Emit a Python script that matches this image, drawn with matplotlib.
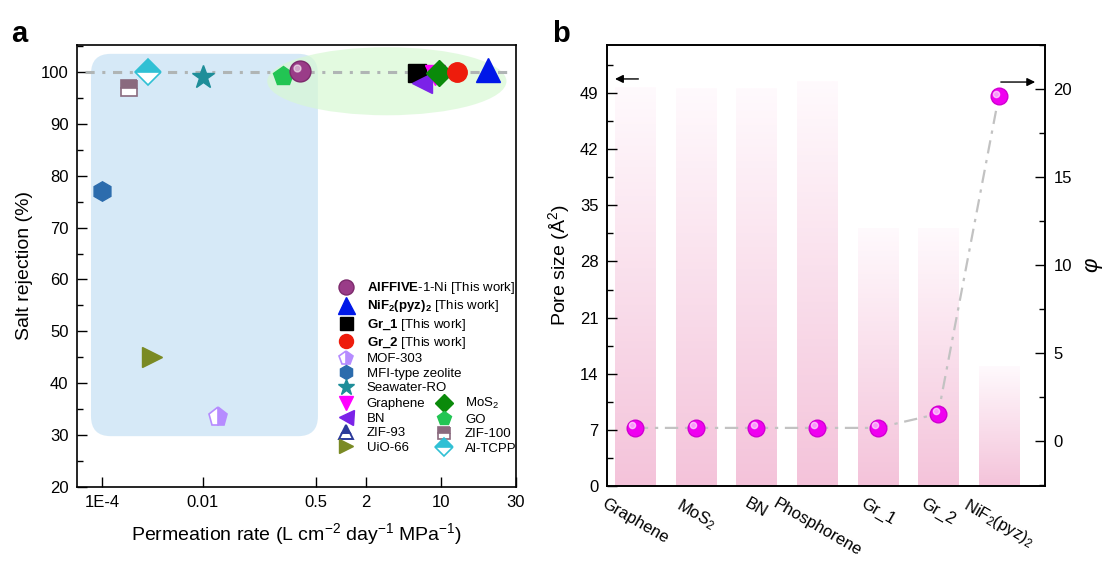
import matplotlib
matplotlib.use("Agg")
import matplotlib.pyplot as plt
import numpy as np
from matplotlib.patches import FancyBboxPatch, Ellipse
from matplotlib.ticker import MultipleLocator, NullLocator
from matplotlib.transforms import offset_copy
from matplotlib.colors import LinearSegmentedColormap

plt.rcParams['font.family'] = ['Liberation Sans', 'DejaVu Sans']
plt.rcParams['mathtext.fontset'] = 'custom'
plt.rcParams['mathtext.rm'] = 'Liberation Sans'
plt.rcParams['mathtext.it'] = 'Liberation Sans:italic'
plt.rcParams['mathtext.bf'] = 'Liberation Sans:bold'

# ---- panel a data: (permeation, rejection) ----
alffive = (0.29, 100.2)
nif2 = (20.0, 100.3)
gr1 = (6.0, 99.8)
gr2 = (12.6, 100.0)
mof303 = (0.017, 33.4)
mfi = (1.0e-4, 77.1)
seawater = (0.01, 99.0)
graphene_a = (8.8, 99.4)
mos2_a = (9.6, 99.8)
bn_a = (6.7, 97.9)
go = (0.16, 99.2)
zif100 = (3.4e-4, 96.9)
uio66 = (1.0e-3, 45.1)
altcpp = (8.1e-4, 100.0)

xtick_vals = [1e-4, 0.01, 0.5, 2, 10, 30]
xtick_labels = ['1E-4', '0.01', '0.5', '2', '10', '30']
# the original axis is not a plain log axis: relative spacing of its ticks
xtick_spacing = [0, 101, 214, 264, 339, 414]

# ---- panel b data ----
materials = ['Graphene', 'MoS$_2$', 'BN', 'Phosphorene', 'Gr_1', 'Gr_2', 'NiF$_2$(pyz)$_2$']
pore_size = [49.7, 49.6, 49.6, 50.5, 32.2, 32.2, 15.0]
phi = [0.75, 0.75, 0.75, 0.75, 0.75, 1.55, 19.6]

fig = plt.figure(figsize=(11.04, 5.61), dpi=100)
axa = fig.add_axes([0.0697, 0.1319, 0.3976, 0.7879])
axb = fig.add_axes([0.5498, 0.1337, 0.3967, 0.7861])

# custom x scale (piecewise log)
lg = np.log10(xtick_vals)
anc_log = np.concatenate([[-6], lg, [3]])
anc_pos = np.concatenate([[-101], xtick_spacing, [414 + (3 - lg[-1]) * 157]])


def fwd(x):
    return np.interp(np.log10(np.clip(x, 1e-12, None)), anc_log, anc_pos)


def inv(p):
    return 10 ** np.interp(p, anc_pos, anc_log)


axa.set_xscale('function', functions=(fwd, inv))
axa.set_xlim(3.2e-5, 30)
axa.set_ylim(20, 105.2)

# shaded regions
axa.add_patch(FancyBboxPatch((0.077, 0.16), 0.427, 0.775,
                             boxstyle="round,pad=0.045", transform=axa.transAxes,
                             fc='#cfe6f6', ec='none', alpha=0.85, zorder=0))
axa.add_patch(Ellipse((0.706, 0.918), 0.545, 0.154, transform=axa.transAxes,
                      fc='#d8f8d4', ec='none', alpha=0.7, zorder=1))
axa.axhline(100, xmin=0.018, xmax=0.982, color='#b0b5b5', lw=2.2,
            dashes=(3, 2.5, 1, 2.5), zorder=2)

ms = 14
h = {}
h['mof'], = axa.plot(*mof303, 'p', ms=ms, color='#b68cff', fillstyle='right',
                     markerfacecoloralt='white', mec='#b68cff', mew=1.2, ls='none')
h['mfi'], = axa.plot(*mfi, 'h', ms=ms, color='#2c6cad', ls='none')
h['sw'], = axa.plot(*seawater, '*', ms=ms + 3, color='#1e8e99', ls='none')
h['zif100'], = axa.plot(*zif100, 's', ms=ms - 2, color='#8a6a7e', fillstyle='top',
                        markerfacecoloralt='white', mec='#8a6a7e', mew=1.2, ls='none')
h['uio'], = axa.plot(*uio66, '>', ms=ms, color='#7a8a24', ls='none')
h['altcpp'], = axa.plot(*altcpp, 'D', ms=ms - 1, color='#30c0d4', fillstyle='top',
                        markerfacecoloralt='white', mec='#30c0d4', mew=1.2, ls='none')
h['go'], = axa.plot(*go, 'p', ms=ms + 1, color='#22c553', ls='none')
h['gr1'], = axa.plot(*gr1, 's', ms=ms - 1, color='black', ls='none')
h['graphene'], = axa.plot(*graphene_a, 'v', ms=ms, color='#ff00ff', ls='none')
h['bn'], = axa.plot(*bn_a, '<', ms=ms + 1, color='#7b22e8', ls='none')
h['mos2'], = axa.plot(*mos2_a, 'D', ms=ms - 1, color='#0a8a0a', ls='none')
h['gr2'], = axa.plot(*gr2, 'o', ms=ms, color='#ee1c0c', ls='none')
h['nif2'], = axa.plot(*nif2, '^', ms=ms + 3, color='#0018e8', ls='none')
h['alf'], = axa.plot(*alffive, 'o', ms=ms + 1, color='#9a3c88', mec='#7c2a6c', ls='none')
axa.plot(*alffive, 'o', ms=5, color='white', alpha=0.55, ls='none',
         transform=offset_copy(axa.transData, fig, x=-2, y=2, units='points'))
h['zif93'], = axa.plot([], [], '^', ms=ms, color='#2b3a9a', fillstyle='top',
                       markerfacecoloralt='white', mec='#2b3a9a', mew=1.4, ls='none')

axa.set_xticks(xtick_vals)
axa.set_xticklabels(xtick_labels)
axa.xaxis.set_minor_locator(NullLocator())
axa.set_yticks(np.arange(20, 101, 10))
axa.yaxis.set_minor_locator(MultipleLocator(5))
axa.tick_params(direction='in', length=7, width=1, labelsize=12, pad=6)
axa.tick_params(which='minor', direction='in', length=4, width=1)
for s in axa.spines.values():
    s.set_linewidth(1.2)
axa.set_xlabel('Permeation rate (L cm$^{-2}$ day$^{-1}$ MPa$^{-1}$)', fontsize=14, labelpad=8)
axa.set_ylabel('Salt rejection (%)', fontsize=14, labelpad=6)

leg_kw = dict(frameon=False, fontsize=9.5, handlelength=1.1, handletextpad=1.0,
              labelspacing=0.17, borderpad=0, borderaxespad=0, markerscale=0.72)
leg1 = axa.legend([h['alf'], h['nif2'], h['gr1'], h['gr2'], h['mof'], h['mfi'], h['sw']],
                  [r'$\mathbf{AlFFIVE}$-1-Ni [This work]',
                   r'$\mathbf{NiF_2(pyz)_2}$ [This work]',
                   r'$\mathbf{Gr\_1}$ [This work]',
                   r'$\mathbf{Gr\_2}$ [This work]',
                   'MOF-303', 'MFI-type zeolite', 'Seawater-RO'],
                  loc='upper left', bbox_to_anchor=(0.597, 0.468), **leg_kw)
axa.add_artist(leg1)
axa.legend([h['graphene'], h['bn'], h['zif93'], h['uio'],
            h['mos2'], h['go'], h['zif100'], h['altcpp']],
           ['Graphene', 'BN', 'ZIF-93', 'UiO-66', 'MoS$_2$', 'GO', 'ZIF-100', 'Al-TCPP'],
           ncol=2, columnspacing=0.9, loc='upper left',
           bbox_to_anchor=(0.597, 0.205), **leg_kw)

# ---- panel b ----
x = np.arange(len(materials))
bars = axb.bar(x, pore_size, width=0.66, color='none', edgecolor='none')
grad = np.linspace(0, 1, 256).reshape(-1, 1)
cmap = LinearSegmentedColormap.from_list('pk', ['#f4c3da', '#fffafd'])
for b in bars:
    bx, bw, bh = b.get_x(), b.get_width(), b.get_height()
    im = axb.imshow(grad, extent=[bx, bx + bw, 0, bh], origin='lower', cmap=cmap,
                    aspect='auto', zorder=1)
    im.set_clip_path(b)
axb.set_xlim(-0.46, 6.76)
axb.set_ylim(0, 55)
axb.set_yticks(np.arange(0, 50, 7))
axb.yaxis.set_minor_locator(MultipleLocator(3.5))
axb.set_xticks(x)
axb.set_xticklabels(materials, rotation=-30, ha='center', va='top', fontsize=12)
axb.tick_params(axis='x', length=0, pad=7)
axb.tick_params(axis='y', direction='in', length=7, width=1, labelsize=12, pad=6)
axb.tick_params(axis='y', which='minor', direction='in', length=4, width=1)
axb.set_ylabel('Pore size (Å$^{2}$)', fontsize=14, labelpad=6)

axr = axb.twinx()
axr.set_ylim(-2.55, 22.5)
axr.plot(x, phi, color='#c2c2c2', lw=1.6, dashes=(6, 3, 1.5, 3), zorder=2)
axr.plot(x, phi, 'o', ms=12, color='#f000f0', mec='#d000d0', ls='none', zorder=3)
axr.plot(x, phi, 'o', ms=4.5, color='white', alpha=0.6, ls='none', zorder=4,
         transform=offset_copy(axr.transData, fig, x=-1.8, y=1.8, units='points'))
axr.set_yticks([0, 5, 10, 15, 20])
axr.yaxis.set_minor_locator(MultipleLocator(2.5))
axr.tick_params(axis='y', direction='in', length=7, width=1, labelsize=12, pad=6)
axr.tick_params(axis='y', which='minor', direction='in', length=4, width=1)
axr.set_ylabel(r'$\varphi$', fontsize=16, labelpad=8)
for ax in (axb, axr):
    for s in ax.spines.values():
        s.set_linewidth(1.2)

axb.annotate('', xy=(0.012, 0.923), xytext=(0.078, 0.923), xycoords='axes fraction',
             arrowprops=dict(arrowstyle='-|>', color='black', lw=1, mutation_scale=12))
axb.annotate('', xy=(0.984, 0.916), xytext=(0.893, 0.916), xycoords='axes fraction',
             arrowprops=dict(arrowstyle='-|>', color='black', lw=1, mutation_scale=12))

fig.text(0.010, 0.925, 'a', fontsize=21, fontweight='bold')
fig.text(0.500, 0.925, 'b', fontsize=21, fontweight='bold')

fig.savefig('out.png', dpi=100)
